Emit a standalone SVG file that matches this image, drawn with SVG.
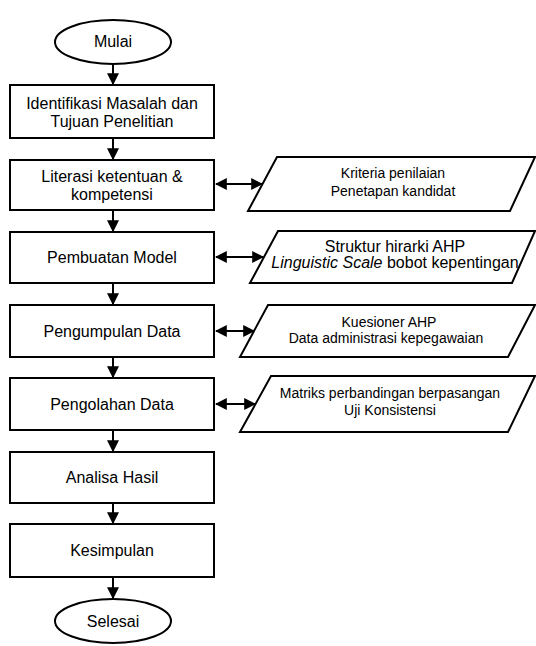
<svg xmlns="http://www.w3.org/2000/svg" width="536" height="646" viewBox="0 0 536 646">
<style>
.s{fill:#fff;stroke:#000;stroke-width:2}
.t{font-family:"Liberation Sans",Arial,sans-serif;font-size:16px;fill:#000;text-anchor:middle}
.p{font-family:"Liberation Sans",Arial,sans-serif;font-size:14px;fill:#000;text-anchor:middle}
.c{stroke:#000;stroke-width:2;fill:none}
</style>
<defs>
<marker id="ah" viewBox="0 0 10 10" refX="9" refY="5" markerWidth="6" markerHeight="6" orient="auto-start-reverse" markerUnits="strokeWidth">
<path d="M0,0 L10,5 L0,10 z" fill="#000"/>
</marker>
</defs>
<rect width="536" height="646" fill="#fff"/>
<g id="connectors">
<line class="c" x1="113" y1="64" x2="113" y2="84" marker-end="url(#ah)"/>
<line class="c" x1="113" y1="139" x2="113" y2="159" marker-end="url(#ah)"/>
<line class="c" x1="113" y1="211" x2="113" y2="231" marker-end="url(#ah)"/>
<line class="c" x1="113" y1="284" x2="113" y2="304" marker-end="url(#ah)"/>
<line class="c" x1="113" y1="358" x2="113" y2="377" marker-end="url(#ah)"/>
<line class="c" x1="113" y1="431" x2="113" y2="451" marker-end="url(#ah)"/>
<line class="c" x1="113" y1="504" x2="113" y2="523" marker-end="url(#ah)"/>
<line class="c" x1="113" y1="578" x2="113" y2="598" marker-end="url(#ah)"/>
<line class="c" x1="216" y1="184" x2="262" y2="184" marker-start="url(#ah)" marker-end="url(#ah)"/>
<line class="c" x1="216" y1="257" x2="263" y2="257" marker-start="url(#ah)" marker-end="url(#ah)"/>
<line class="c" x1="216" y1="331" x2="254" y2="331" marker-start="url(#ah)" marker-end="url(#ah)"/>
<line class="c" x1="216" y1="404" x2="255" y2="404" marker-start="url(#ah)" marker-end="url(#ah)"/>
</g>
<g id="mulai"><ellipse class="s" cx="113" cy="42" rx="58" ry="22"/><text class="t" x="113" y="47">Mulai</text></g>
<g id="identifikasi"><rect class="s" x="10" y="85" width="204" height="53"/><text class="t" x="112" y="109">Identifikasi Masalah dan</text><text class="t" x="112" y="127">Tujuan Penelitian</text></g>
<g id="literasi"><rect class="s" x="10" y="160" width="204" height="50"/><text class="t" x="112" y="182">Literasi ketentuan &amp;</text><text class="t" x="112" y="200">kompetensi</text></g>
<g id="pembuatan"><rect class="s" x="10" y="232" width="204" height="51"/><text class="t" x="112" y="263">Pembuatan Model</text></g>
<g id="pengumpulan"><rect class="s" x="10" y="305" width="204" height="52"/><text class="t" x="112" y="337">Pengumpulan Data</text></g>
<g id="pengolahan"><rect class="s" x="10" y="378" width="204" height="52"/><text class="t" x="112" y="410">Pengolahan Data</text></g>
<g id="analisa"><rect class="s" x="10" y="452" width="204" height="51"/><text class="t" x="112" y="483">Analisa Hasil</text></g>
<g id="kesimpulan"><rect class="s" x="10" y="524" width="204" height="53"/><text class="t" x="112" y="556">Kesimpulan</text></g>
<g id="selesai"><ellipse class="s" cx="113" cy="621" rx="58" ry="22"/><text class="t" x="113" y="627">Selesai</text></g>
<g id="kriteria"><polygon class="s" points="277,157 535,157 510,211 248,211"/><text class="p" x="393" y="178">Kriteria penilaian</text><text class="p" x="393" y="196">Penetapan kandidat</text></g>
<g id="struktur"><polygon class="s" points="278,231 535,231 512,283 250,283"/><text class="t" x="395" y="252">Struktur hirarki AHP</text><text class="t" x="395" y="268"><tspan font-style="italic">Linguistic Scale</tspan> bobot kepentingan</text></g>
<g id="kuesioner"><polygon class="s" points="268,305 535,305 508,357 240,357"/><text class="p" x="389" y="327">Kuesioner AHP</text><text class="p" x="386" y="343">Data administrasi kepegawaian</text></g>
<g id="matriks"><polygon class="s" points="271,376 535,376 508,432 240,432"/><text class="p" x="390" y="398">Matriks perbandingan berpasangan</text><text class="p" x="390" y="415">Uji Konsistensi</text></g>
</svg>
